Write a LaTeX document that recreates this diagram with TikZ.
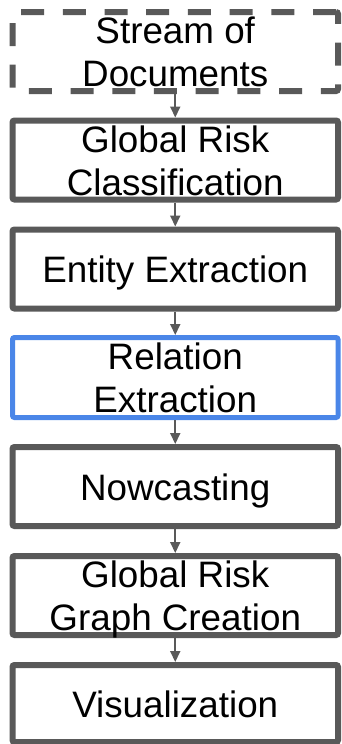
\documentclass[tikz,border=0pt]{standalone}
\usepackage{fontspec}
\setmainfont{Liberation Sans}
\usetikzlibrary{arrows.meta}
\definecolor{boxgray}{HTML}{595959}
\definecolor{boxblue}{HTML}{4A86E8}
% one line of box text: fixed height, no depth
\newcommand{\stl}[1]{\rule{0pt}{27.5pt}\smash{#1}}
\begin{document}
\begin{tikzpicture}[x=1pt,y=-1pt,
  stage/.style={draw=boxgray, line width=6pt, rounded corners=2pt,
    minimum width=325.5pt, minimum height=79pt, inner sep=0pt,
    align=center, text=black, font=\fontsize{36.8pt}{43pt}\selectfont},
  source/.style={stage, dash pattern=on 23pt off 18.7pt},
  current/.style={stage, draw=boxblue, line width=5pt, minimum height=80pt},
  flow/.style={draw=boxgray, line width=2pt,
    -{Triangle[width=10pt,length=11pt]}}]
\useasboundingbox (0,0) rectangle (341,744);
\clip (0,0) rectangle (341,744);

\node[source]  (docs)   at (175.25,51.5)  {\stl{Stream of}\\\stl{Documents}};
\node[stage]   (risk)   at (175.25,160)   {\stl{Global Risk}\\\stl{Classification}};
\node[stage]   (entity) at (175.25,269)   {\stl{Entity Extraction}};
\node[current] (rel)    at (175.25,377.5) {\stl{Relation}\\\stl{Extraction}};
\node[stage]   (now)    at (175.25,486.5) {\stl{Nowcasting}};
\node[stage]   (graph)  at (175.25,595.5) {\stl{Global Risk}\\\stl{Graph Creation}};
\node[stage, minimum height=77pt] (vis) at (175.25,703.5) {\stl{Visualization}};

\draw[flow] (docs)   -- (risk);
\draw[flow] (risk)   -- (entity);
\draw[flow] (entity) -- (rel);
\draw[flow] (rel)    -- (now);
\draw[flow] (now)    -- (graph);
\draw[flow] (graph)  -- (vis);
\end{tikzpicture}
\end{document}
